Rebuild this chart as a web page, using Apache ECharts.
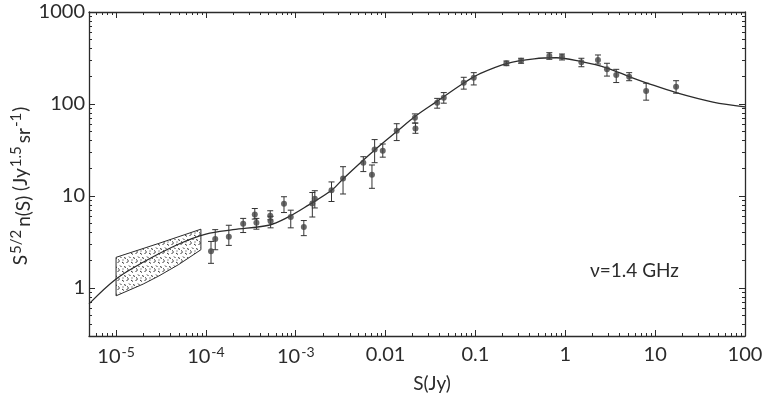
<!DOCTYPE html>
<html lang="en">
  <head>
    <meta charset="UTF-8" />
    <title>Source counts at 1.4 GHz</title>
    <script src="https://cdn.jsdelivr.net/npm/echarts@6.0.0/dist/echarts.min.js"></script>
    <style>
      html, body { margin: 0; padding: 0; background: #fff; }
    </style>
  </head>
  <body>
    <div id="main" style="width: 766px; height: 397px"></div>
    <script type="text/javascript">
      // Measured counts: flux S (Jy), S^5/2 n(S), error bar low / high
      const pointS = [1.14e-4, 1.27e-4, 1.8e-4, 2.6e-4, 3.5e-4, 3.65e-4, 5.2e-4, 5.25e-4, 7.4e-4, 8.8e-4,
        1.23e-3, 1.53e-3, 1.63e-3, 2.5e-3, 3.36e-3, 5.65e-3, 7.05e-3, 7.55e-3, 9.3e-3, 0.0133,
        0.0212, 0.0215, 0.0375, 0.0444, 0.0741, 0.0958, 0.221, 0.322, 0.664, 0.919,
        1.51, 2.31, 2.91, 3.69, 5.14, 7.94, 17.1];
      const pointY = [2.5, 3.4, 3.6, 5.0, 6.3, 5.1, 6.1, 5.3, 8.2, 5.9,
        4.6, 8.3, 9.3, 11.5, 15.5, 23, 17, 32, 31, 51,
        71, 54, 103, 117, 170, 193, 277, 296, 333, 327,
        284, 301, 238, 207, 198, 138, 154];
      const errLow = [1.85, 2.6, 2.9, 4.0, 5.6, 4.35, 5.5, 4.5, 6.6, 4.5,
        3.7, 5.9, 7.4, 8.7, 10.5, 18.4, 12.1, 23, 26.4, 40,
        62, 48, 90, 102, 145, 161, 261, 277, 306, 301,
        254, 272, 201, 171, 179, 110, 131];
      const errHigh = [3.2, 4.3, 4.8, 5.7, 7.3, 5.7, 6.9, 6.0, 9.8, 7.0,
        5.4, 10.9, 11.4, 14.2, 20.8, 26.7, 21.7, 41, 36.7, 61,
        78, 62, 115, 133, 195, 219, 293, 314, 361, 349,
        314, 341, 277, 238, 219, 168, 179];

      // Model curve
      const curveS = [5e-6, 1e-5, 2e-5, 5e-5, 1e-4, 2e-4, 5e-4, 8e-4, 1.4e-3, 2.5e-3, 3.4e-3, 7.4e-3,
        0.0136, 0.0216, 0.038, 0.0735, 0.114, 0.227, 0.45, 0.8, 1.47, 2.93, 5.3, 8.1, 17.5, 44, 100];
      const curveY = [0.67, 1.25, 1.9, 3.0, 3.85, 4.3, 4.8, 5.8, 8.0, 11.5, 15.5, 31,
        51, 74, 108, 168, 215, 277, 310, 318, 290, 246, 196, 169, 132, 105, 93];

      // Shaded region (deep survey)
      const boxTopS = [1e-5, 3e-5, 8.8e-5];
      const boxTopY = [2.15, 3.05, 4.35];
      const boxBottomS = [1e-5, 2e-5, 3e-5, 5e-5, 8.8e-5];
      const boxBottomY = [0.82, 1.1, 1.35, 1.8, 2.6];

      // Axis ticks
      const xTickValues = [1e-5, 1e-4, 1e-3, 0.01, 0.1, 1, 10, 100];
      const yTickValues = [1, 10, 100, 1000];
      const xMin = 5e-6, xMax = 100, yMin = 0.3, yMax = 1000;

      function minorTicks(lo, hi) {
        const out = [];
        for (let e = Math.floor(Math.log10(lo)); e < Math.ceil(Math.log10(hi)); e++) {
          for (let m = 2; m <= 9; m++) {
            const v = m * Math.pow(10, e);
            if (v >= lo && v <= hi) out.push(v);
          }
        }
        return out;
      }
      const xMinor = minorTicks(xMin, xMax);
      const yMinor = minorTicks(yMin, yMax);

      const ink = "#2b2b2b";
      const font = "Lato";

      function xLabel(v) {
        const e = Math.round(Math.log10(v));
        if (e <= -3) return "10{sup|" + e + "}";
        return e < 0 ? v.toFixed(-e) : String(Math.round(v));
      }

      function makeAxis(kind, position, values, len, withLine, withLabel) {
        const isX = kind === "x";
        return {
          type: "log",
          logBase: 10,
          min: isX ? xMin : yMin,
          max: isX ? xMax : yMax,
          position: position,
          splitLine: { show: false },
          axisLine: { show: withLine, onZero: false, lineStyle: { color: ink, width: 1.3 } },
          axisTick: { show: true, inside: true, length: len, customValues: values, lineStyle: { color: ink, width: 1 } },
          axisLabel: withLabel
            ? {
                show: true,
                customValues: values,
                margin: isX ? 9 : 4,
                color: ink,
                fontFamily: font,
                fontSize: 20,
                formatter: isX ? xLabel : (v) => String(Math.round(v)),
                rich: { sup: { fontSize: 14, fontFamily: font, color: ink, verticalAlign: "top", padding: [0, 0, 10, 1] } },
              }
            : { show: false },
        };
      }

      // Tile for the speckled fill of the shaded region
      const tile = document.createElement("canvas");
      tile.width = 9;
      tile.height = 9;
      const tctx = tile.getContext("2d");
      tctx.strokeStyle = "#333";
      tctx.lineWidth = 1;
      [[0.5, 1.5, 2.5, 0.5], [5, 1, 7, 2.5], [3, 4.5, 4.5, 6], [7.5, 5, 8.5, 7], [1, 7.5, 2.5, 8.5], [5.5, 8, 6.5, 8]].forEach((s) => {
        tctx.beginPath();
        tctx.moveTo(s[0], s[1]);
        tctx.lineTo(s[2], s[3]);
        tctx.stroke();
      });

      let myChart = echarts.init(document.getElementById("main"));

      let options = {
        animation: false,
        backgroundColor: "#fff",
        textStyle: { fontFamily: font },
        grid: { left: 89, right: 21, top: 12, bottom: 61, containLabel: false, outerBoundsMode: "none" },
        xAxis: [
          makeAxis("x", "bottom", xTickValues, 6, true, true),
          makeAxis("x", "bottom", xMinor, 3, false, false),
          makeAxis("x", "top", xTickValues, 6, true, false),
          makeAxis("x", "top", xMinor, 3, false, false),
        ],
        yAxis: [
          makeAxis("y", "left", yTickValues, 6, true, true),
          makeAxis("y", "left", yMinor, 3, false, false),
          makeAxis("y", "right", yTickValues, 6, true, false),
          makeAxis("y", "right", yMinor, 3, false, false),
        ],
        graphic: [
          {
            type: "text",
            x: 21,
            y: 186,
            rotation: Math.PI / 2,
            style: {
              text: "S{sup|5/2}{low|n(S)} (Jy{sup|1.5}{low|sr}{sup|-1})",
              fontFamily: font,
              fontSize: 19,
              fill: ink,
              align: "center",
              verticalAlign: "middle",
              rich: {
                sup: { fontSize: 15, fontFamily: font, fill: ink, verticalAlign: "top", padding: [0, 1, 10, 1] },
                low: { fontSize: 19, fontFamily: font, fill: ink, verticalAlign: "bottom", padding: [4, 0, 0, 2] },
              },
            },
          },
          {
            type: "text",
            x: 432,
            y: 384,
            style: { text: "S(Jy)", fontFamily: font, fontSize: 19, fill: ink, align: "center", verticalAlign: "middle" },
          },
          {
            type: "text",
            x: 590,
            y: 271,
            style: { text: "\u03bd=1.4 GHz", fontFamily: font, fontSize: 19, fill: ink, align: "left", verticalAlign: "middle" },
          },
        ],
        series: [
          {
            name: "region",
            type: "custom",
            xAxisIndex: 0,
            yAxisIndex: 0,
            z: 1,
            data: [[boxTopS[0], boxTopY[0]]],
            renderItem: (params, api) => {
              const top = boxTopS.map((s, i) => api.coord([s, boxTopY[i]]));
              const bottom = boxBottomS.map((s, i) => api.coord([s, boxBottomY[i]])).reverse();
              return {
                type: "polygon",
                shape: { points: top.concat(bottom) },
                style: { fill: { image: tile, repeat: "repeat" }, stroke: ink, lineWidth: 1 },
              };
            },
          },
          {
            name: "model",
            type: "line",
            xAxisIndex: 0,
            yAxisIndex: 0,
            z: 2,
            smooth: 0.35,
            symbol: "none",
            lineStyle: { color: ink, width: 1.3 },
            data: curveS.map((s, i) => [s, curveY[i]]),
          },
          {
            name: "errors",
            type: "custom",
            xAxisIndex: 0,
            yAxisIndex: 0,
            z: 3,
            data: pointS.map((s, i) => [s, errLow[i], errHigh[i]]),
            encode: { x: 0, y: [1, 2] },
            renderItem: (params, api) => {
              const lo = api.coord([api.value(0), api.value(1)]);
              const hi = api.coord([api.value(0), api.value(2)]);
              const w = 3;
              const st = { stroke: "#333", lineWidth: 1 };
              return {
                type: "group",
                children: [
                  { type: "line", shape: { x1: lo[0], y1: lo[1], x2: hi[0], y2: hi[1] }, style: st },
                  { type: "line", shape: { x1: lo[0] - w, y1: lo[1], x2: lo[0] + w, y2: lo[1] }, style: st },
                  { type: "line", shape: { x1: hi[0] - w, y1: hi[1], x2: hi[0] + w, y2: hi[1] }, style: st },
                ],
              };
            },
          },
          {
            name: "counts",
            type: "scatter",
            xAxisIndex: 0,
            yAxisIndex: 0,
            z: 4,
            symbol: "circle",
            symbolSize: 6,
            itemStyle: { color: "#444" },
            data: pointS.map((s, i) => [s, pointY[i]]),
          },
        ],
      };

      myChart.setOption(options);
    </script>
  </body>
</html>
